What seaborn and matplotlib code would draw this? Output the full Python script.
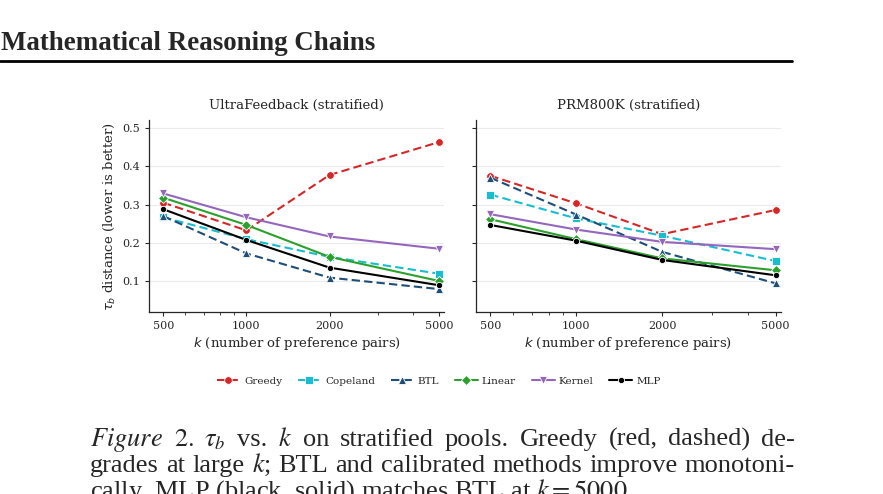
import numpy as np
import pandas as pd
import matplotlib
matplotlib.use('Agg')
import matplotlib.pyplot as plt
import seaborn as sns

# =============================================================================
# Data
# =============================================================================

k_values = [500, 1000, 2000, 5000]
methods = ['Greedy', 'Copeland', 'BTL', 'Linear', 'Kernel', 'MLP']

# UltraFeedback (stratified)
uf_greedy = [0.305, 0.233, 0.377, 0.463]
uf_copeland = [0.267, 0.210, 0.164, 0.120]
uf_btl = [0.270, 0.173, 0.110, 0.080]
uf_linear = [0.318, 0.247, 0.164, 0.101]
uf_kernel = [0.329, 0.267, 0.217, 0.185]
uf_mlp = [0.288, 0.208, 0.136, 0.090]

# PRM800K (stratified)
prm_greedy = [0.375, 0.303, 0.223, 0.286]
prm_copeland = [0.326, 0.264, 0.219, 0.153]
prm_btl = [0.370, 0.274, 0.177, 0.095]
prm_linear = [0.262, 0.210, 0.160, 0.129]
prm_kernel = [0.275, 0.235, 0.203, 0.184]
prm_mlp = [0.247, 0.206, 0.156, 0.116]

panel_titles = ['UltraFeedback (stratified)', 'PRM800K (stratified)']

# build long-form tables for seaborn
def make_df(series):
    rows = []
    for m, vals in zip(methods, series):
        for k, v in zip(k_values, vals):
            rows.append({'k': k, 'tau': v, 'method': m})
    return pd.DataFrame(rows)

uf_df = make_df([uf_greedy, uf_copeland, uf_btl, uf_linear, uf_kernel, uf_mlp])
prm_df = make_df([prm_greedy, prm_copeland, prm_btl, prm_linear, prm_kernel, prm_mlp])

# =============================================================================
# Styling
# =============================================================================

sns.set_theme(style='ticks')
plt.rcParams['font.family'] = ['DejaVu Serif']

palette = {'Greedy': '#d62728', 'Copeland': '#17becf', 'BTL': '#1f4e79',
           'Linear': '#2ca02c', 'Kernel': '#9467bd', 'MLP': 'black'}
markers = {'Greedy': 'o', 'Copeland': 's', 'BTL': '^',
           'Linear': 'D', 'Kernel': 'v', 'MLP': 'o'}
dashes = {'Greedy': (4, 2), 'Copeland': (4, 2), 'BTL': (4, 2),
          'Linear': '', 'Kernel': '', 'MLP': ''}

fig = plt.figure(figsize=(8.83, 4.94), dpi=100)
ax1 = fig.add_axes([0.169, 0.368, 0.334, 0.389])
ax2 = fig.add_axes([0.539, 0.368, 0.345, 0.389], sharey=ax1)

for ax, df, title in zip([ax1, ax2], [uf_df, prm_df], panel_titles):
    sns.lineplot(data=df, x='k', y='tau', hue='method', style='method',
                 hue_order=methods, style_order=methods,
                 palette=palette, markers=markers, dashes=dashes,
                 markersize=5.5, markeredgecolor='white', markeredgewidth=0.6,
                 linewidth=1.5, ax=ax, legend=(ax is ax1))
    ax.set_xscale('log')
    ax.set_xlim(445, 5200)
    ax.set_ylim(0.02, 0.52)
    ax.set_xticks(k_values)
    ax.set_xticklabels([str(k) for k in k_values])
    ax.set_yticks([0.1, 0.2, 0.3, 0.4, 0.5])
    ax.grid(axis='y', color='#ebebeb', linewidth=0.8)
    ax.set_axisbelow(True)
    ax.tick_params(labelsize=8, length=3, width=0.8)
    ax.tick_params(which='minor', length=2, width=0.6)
    ax.set_title(title, fontsize=9.5, pad=8)
    ax.set_xlabel('$k$ (number of preference pairs)', fontsize=9.5, labelpad=3)
    ax.set_ylabel('')
    for sp in ['left', 'bottom']:
        ax.spines[sp].set_linewidth(0.9)
    sns.despine(ax=ax)

ax1.set_ylabel(r'$\tau_b$ distance (lower is better)', fontsize=9.5, labelpad=4)
ax2.tick_params(labelleft=False)

# smaller MLP marker like the original
for ax in [ax1, ax2]:
    for line in ax.get_lines():
        if line.get_color() == 'black':
            line.set_markersize(4.5)

handles, labels = ax1.get_legend_handles_labels()
ax1.get_legend().remove()
for h, lab in zip(handles, labels):
    if lab == 'MLP':
        h.set_markersize(4.5)
fig.legend(handles, labels, loc='center', bbox_to_anchor=(0.497, 0.229),
           ncol=6, frameon=False, fontsize=7.5, handlelength=2.2,
           handletextpad=0.4, columnspacing=1.5)

# =============================================================================
# Page text around the figure
# =============================================================================

W, H = 883, 494

fig.text(0.001, 1 - 43 / H, 'Mathematical Reasoning Chains', fontsize=19.4,
         fontweight='bold', family='Liberation Serif', va='center', ha='left')
fig.add_artist(plt.Line2D([0, 792 / W], [1 - 61 / H, 1 - 61 / H],
                          color='black', linewidth=2.0))

# caption, justified word by word between x=90 and x=795
cap_line1 = [r'$\it{Figure}$', r'$\it{2.}$', r'$\tau_b$', 'vs.', '$k$', 'on',
             'stratified', 'pools.', 'Greedy', '(red,', 'dashed)', 'de-']
cap_line2 = ['grades', 'at', 'large', '$k$;', 'BTL', 'and', 'calibrated',
             'methods', 'improve', 'monotoni-']
cap_line3 = r'cally. MLP (black, solid) matches BTL at $k = 5000$.'

cap_kw = dict(fontsize=19, family='Liberation Serif', math_fontfamily='stix',
              va='baseline', ha='left')
renderer = fig.canvas.get_renderer()
x_left, x_right = 90, 795

for words, y in [(cap_line1, 446), (cap_line2, 472)]:
    widths = []
    for w in words:
        t = fig.text(0, 0, w, **cap_kw)
        widths.append(t.get_window_extent(renderer).width)
        t.remove()
    gap = (x_right - x_left - sum(widths)) / (len(words) - 1)
    x = x_left
    for w, wd in zip(words, widths):
        fig.text(x / W, 1 - y / H, w, **cap_kw)
        x += wd + gap

fig.text(x_left / W, 1 - 498 / H, cap_line3, **cap_kw)

plt.savefig('out.png', dpi=100)
